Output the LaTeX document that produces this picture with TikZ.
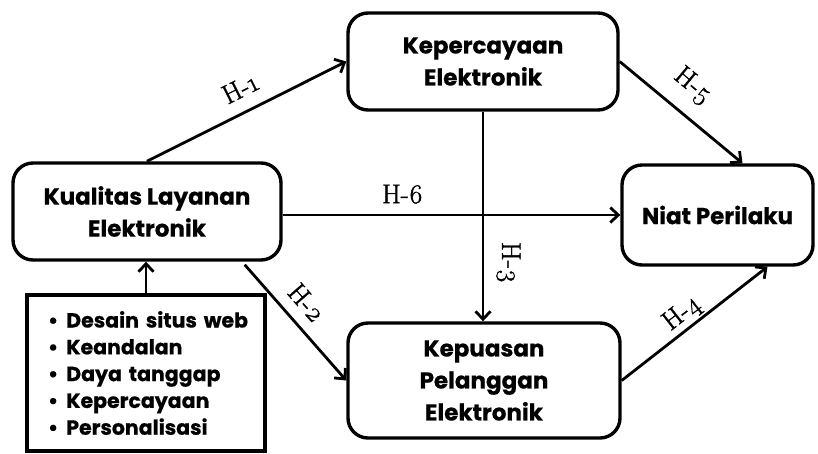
\documentclass[tikz,border=0pt]{standalone}
\usepackage{fontspec}
\newfontfamily\boxfont[BoldFeatures={FakeBold=0.6}]{Poppins}
\newfontfamily\labfont[Numbers=OldStyle,BoldFont={Latin Modern Roman},BoldFeatures={FakeBold=1.2}]{Latin Modern Roman}
\usetikzlibrary{arrows.meta,calc}
\begin{document}
\begin{tikzpicture}[x=1pt,y=-1pt,
  box/.style={draw, line width=3.4pt, rounded corners=20pt, align=center,
    font=\boxfont\bfseries\fontsize{23}{32}\selectfont, inner sep=0pt},
  listbox/.style={draw, line width=3.4pt, align=left, inner sep=0pt,
    font=\boxfont\bfseries\fontsize{20.5}{26.8}\selectfont},
  conn/.style={line width=2.8pt, -{Straight Barb[length=8pt,width=15pt,line width=2.8pt]}},
  hlab/.style={font=\labfont\bfseries\fontsize{27}{29}\selectfont, sloped, above, inner sep=0pt}
]
\useasboundingbox (0,0) rectangle (818,453);
\fill[white] (0,0) rectangle (818,453);

\node[box, minimum width=268pt, minimum height=97pt] (kle) at (147,211.5) {Kualitas Layanan\\Elektronik};
\node[box, minimum width=270pt, minimum height=97pt] (ke) at (483,61.5) {Kepercayaan\\Elektronik};
\node[box, minimum width=272pt, minimum height=115pt] (kp) at (484,380.5) {Kepuasan\\Pelanggan\\Elektronik};
\node[box, minimum width=191pt, minimum height=100pt] (np) at (717.5,215) {Niat Perilaku};
\node[listbox, minimum width=238pt, minimum height=156pt, text width=230pt] (lst) at (146,373)
  {\hspace*{17pt}•\hspace{8pt}Desain situs web\\
   \hspace*{17pt}•\hspace{8pt}Keandalan\\
   \hspace*{17pt}•\hspace{8pt}Daya tanggap\\
   \hspace*{17pt}•\hspace{8pt}Kepercayaan\\
   \hspace*{17pt}•\hspace{8pt}Personalisasi};

\coordinate (h2s) at ($(kle.south east)+(-38,3)$);
\coordinate (h5e) at ([xshift=25pt]np.north);
\coordinate (h4e) at ([xshift=50pt]np.south);

\draw[conn] (lst.north) -- (lst.north |- kle.south);
\draw[conn] (kle.north) -- node[hlab, pos=0.52, above=13pt] {H-1} (ke.west);
\draw[conn] (kle.east |- np.west) -- node[hlab, pos=0.355, above=10pt] {H-6} (np.west);
\draw[conn] (h2s) -- node[hlab, pos=0.45, above=11pt] {H-2} (kp.west);
\draw[conn] (ke.south) -- node[hlab, pos=0.72, above=12pt] {H-3} (ke.south |- kp.north);
\draw[conn] (ke.east) -- node[hlab, pos=0.45, above=14pt] {H-5} (h5e);
\draw[conn] (kp.east) -- node[hlab, pos=0.48, above=2pt] {H-4} (h4e);
\end{tikzpicture}
\end{document}
